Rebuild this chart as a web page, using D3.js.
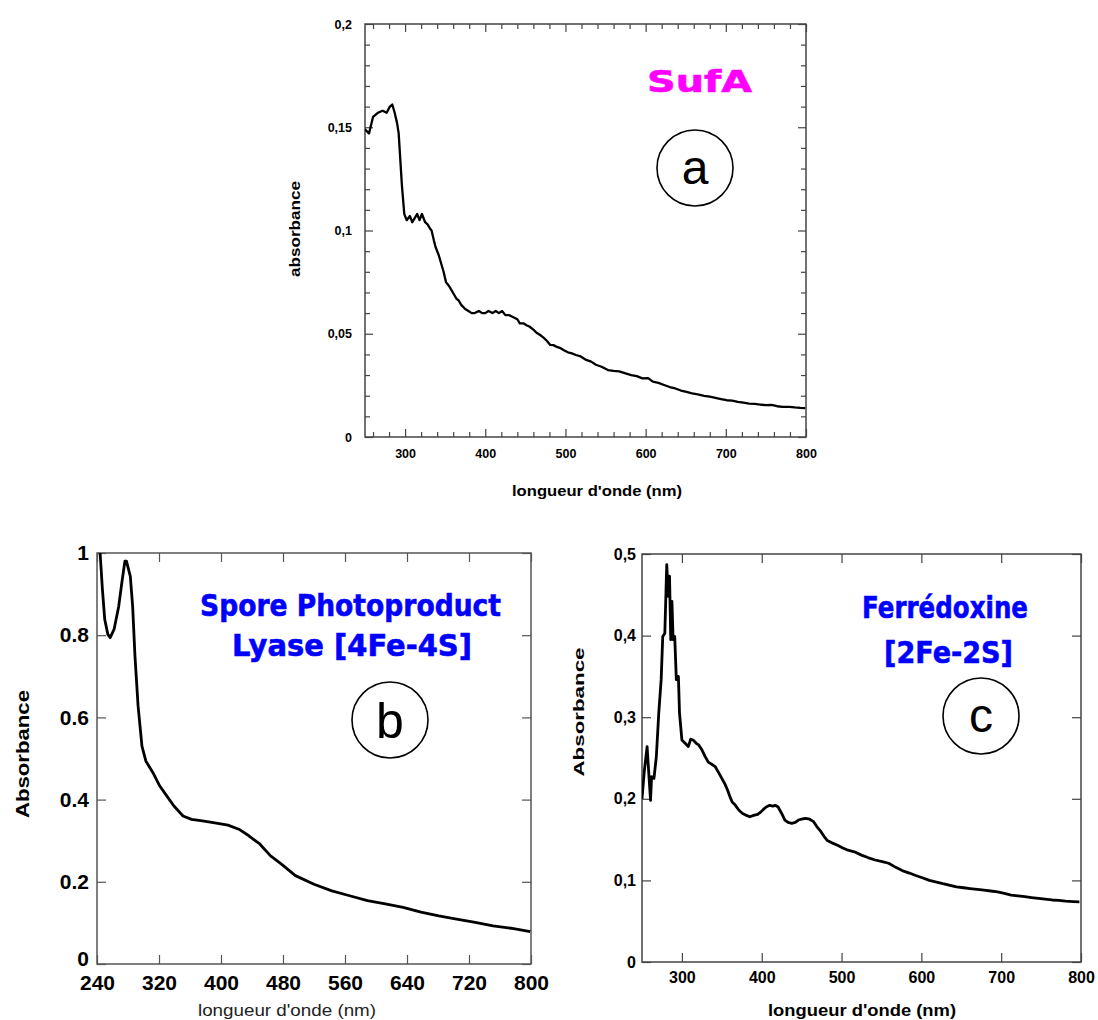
<!DOCTYPE html>
<html>
<head>
<meta charset="utf-8">
<script src="https://cdn.jsdelivr.net/npm/d3@7"></script>
<style>
  html, body { margin: 0; padding: 0; background: #fff; }
  svg { display: block; }
</style>
</head>
<body>
<svg id="chart" width="1098" height="1020"></svg>
<script>
// ---------- DATA ----------
// Panel a : SufA
const sufaWavelength = [250,255,260,266,272,277,281,284,287,290,292,296,299,302,306,309,312,315,318,321,325,328,331,333,336,338,342,345,348,351,355,358,361,364,367,370,375,379,383,387,392,396,400,404,409,413,417,421,425,430,435,440,443,448,452,455,460,464,468,473,477,481,485,490,494,498,503,508,513,519,525,532,538,545,553,560,567,575,582,589,596,603,609,616,623,630,637,644,651,658,665,673,680,687,694,701,708,715,722,729,736,743,750,757,764,771,779,786,793,799];
const sufaAbs = [0.149,0.147,0.155,0.157,0.158,0.157,0.160,0.161,0.157,0.152,0.147,0.122,0.108,0.105,0.107,0.104,0.106,0.108,0.105,0.108,0.104,0.103,0.101,0.100,0.095,0.092,0.088,0.084,0.080,0.075,0.073,0.071,0.069,0.067,0.066,0.064,0.062,0.061,0.060,0.060,0.061,0.060,0.060,0.061,0.060,0.061,0.060,0.061,0.059,0.059,0.058,0.057,0.055,0.055,0.054,0.0535,0.052,0.0505,0.0495,0.048,0.0465,0.0446,0.0445,0.0435,0.043,0.042,0.041,0.0405,0.0397,0.039,0.0375,0.0365,0.035,0.034,0.0324,0.032,0.0318,0.0308,0.0300,0.0295,0.0284,0.0285,0.0268,0.0262,0.0252,0.0242,0.0235,0.0225,0.0218,0.0211,0.0206,0.0199,0.0195,0.019,0.0184,0.0178,0.0176,0.0170,0.0166,0.0162,0.0160,0.0157,0.0154,0.0156,0.0149,0.0146,0.0146,0.0143,0.0141,0.0140,0.0135];

// Panel b : Spore Photoproduct Lyase [4Fe-4S]
const sppWavelength = [244,247,250,254,257,262,268,272,276,278,283,286,289,293,298,303,312,321,330,339,351,362,376,390,409,423,436,450,464,478,496,520,543,566,589,612,635,658,681,704,728,751,774,799];
const sppAbs = [1.0,0.911,0.838,0.802,0.794,0.814,0.870,0.927,0.980,0.980,0.943,0.870,0.749,0.628,0.530,0.494,0.466,0.433,0.409,0.385,0.360,0.352,0.348,0.344,0.338,0.328,0.312,0.292,0.263,0.243,0.215,0.194,0.178,0.166,0.154,0.146,0.138,0.126,0.117,0.109,0.101,0.093,0.087,0.079];

// Panel c : Ferrédoxine [2Fe-2S]
const ferWavelength = [250,253,256.4,258.5,260.7,262,265,268,271,274,276,278.6,280,281,283,284.5,286,287.5,289,291,293,295.6,297,300,304,308,311,314,318,321,325,329,333,338,342,346,350,354,357,360,363,367,371.5,376,380,385,391,395,399,402,405.6,410,414,417,420.5,425,429,433,437.6,442,446,450,454.7,460,465,469,474,478,482,488,495,501,508,516,525,533,542,551,559,568,576,585,593,602,610,619,627,636,644,653,661,670,678.5,687,695.5,704,712.5,721,729.7,738,746.7,755,763.7,772,780.8,790,798];
const ferAbs = [0.200,0.235,0.264,0.231,0.198,0.227,0.225,0.252,0.305,0.346,0.399,0.403,0.452,0.487,0.448,0.473,0.395,0.442,0.395,0.399,0.346,0.350,0.305,0.272,0.268,0.264,0.273,0.272,0.268,0.266,0.260,0.252,0.245,0.242,0.239,0.232,0.225,0.218,0.211,0.203,0.196,0.192,0.186,0.182,0.180,0.178,0.180,0.181,0.184,0.187,0.190,0.192,0.191,0.192,0.190,0.182,0.174,0.171,0.170,0.171,0.174,0.175,0.176,0.175,0.172,0.166,0.160,0.154,0.149,0.146,0.143,0.140,0.137,0.135,0.131,0.128,0.125,0.123,0.121,0.116,0.112,0.109,0.106,0.103,0.100,0.098,0.096,0.094,0.092,0.091,0.090,0.089,0.088,0.087,0.086,0.084,0.082,0.081,0.080,0.079,0.078,0.077,0.076,0.0755,0.0745,0.074,0.0737];

// Tick values and labels
const aXTicks = [300,400,500,600,700,800];
const aXTickLabels = ["300","400","500","600","700","800"];
const aXMinor = [260,280,320,340,360,380,420,440,460,480,520,540,560,580,620,640,660,680,720,740,760,780];
const aYTicks = [0,0.05,0.1,0.15,0.2];
const aYTickLabels = ["0","0,05","0,1","0,15","0,2"];
const aYMinor = [0.01,0.02,0.03,0.04,0.06,0.07,0.08,0.09,0.11,0.12,0.13,0.14,0.16,0.17,0.18,0.19];

const bXTicks = [240,320,400,480,560,640,720,800];
const bXTickLabels = ["240","320","400","480","560","640","720","800"];
const bYTicks = [0,0.2,0.4,0.6,0.8,1];
const bYTickLabels = ["0","0.2","0.4","0.6","0.8","1"];

const cXTicks = [300,400,500,600,700,800];
const cXTickLabels = ["300","400","500","600","700","800"];
const cYTicks = [0,0.1,0.2,0.3,0.4,0.5];
const cYTickLabels = ["0","0,1","0,2","0,3","0,4","0,5"];

const panelTitles = {
  a: ["SufA"],
  b: ["Spore Photoproduct", "Lyase [4Fe-4S]"],
  c: ["Ferrédoxine", "[2Fe-2S]"]
};
const xTitle = "longueur d'onde (nm)";

// ---------- DRAW ----------
const svg = d3.select("#chart");
const handFont = "'DejaVu Sans',Verdana,sans-serif";
const axisFont = "Arial,'Liberation Sans',Helvetica,sans-serif";

function panel(cfg) {
  const g = svg.append("g");
  const x = d3.scaleLinear().domain(cfg.xDomain).range([cfg.left, cfg.right]);
  const y = d3.scaleLinear().domain(cfg.yDomain).range([cfg.bottom, cfg.top]);

  const fmt = (arr, labels) => (d => labels[arr.indexOf(d)]);

  // axes (ticks inward)
  function addAxis(axisGen, transform, vals, labels, size, showLabels, pad) {
    const a = axisGen.tickValues(vals).tickSize(-size).tickPadding(pad || 6)
      .tickFormat(showLabels ? fmt(vals, labels) : () => "");
    const ag = g.append("g").attr("transform", transform).call(a);
    ag.select(".domain").remove();
    ag.selectAll("line").attr("stroke", cfg.axisColor).attr("stroke-width", cfg.tickWidth);
    ag.selectAll("text")
      .attr("font-family", axisFont)
      .attr("font-weight", "bold")
      .attr("font-size", cfg.tickFont)
      .attr("fill", "#000");
    return ag;
  }
  addAxis(d3.axisBottom(x), `translate(0,${cfg.bottom})`, cfg.xTicks, cfg.xLabels, cfg.majorLen, true, cfg.xPad);
  addAxis(d3.axisTop(x), `translate(0,${cfg.top})`, cfg.xTicks, cfg.xLabels, cfg.majorLen, false);
  const yAx = addAxis(d3.axisLeft(y), `translate(${cfg.left},0)`, cfg.yTicks, cfg.yLabels, cfg.majorLen, true, cfg.yPad);
  if (cfg.zeroLabelShift) {
    yAx.selectAll(".tick").filter(d => d === 0).select("text").attr("y", -cfg.zeroLabelShift);
  }
  addAxis(d3.axisRight(y), `translate(${cfg.right},0)`, cfg.yTicks, cfg.yLabels, cfg.majorLen, false);
  if (cfg.xMinor) {
    addAxis(d3.axisBottom(x), `translate(0,${cfg.bottom})`, cfg.xMinor, null, cfg.minorLen, false);
    addAxis(d3.axisTop(x), `translate(0,${cfg.top})`, cfg.xMinor, null, cfg.minorLen, false);
  }
  if (cfg.yMinor) {
    addAxis(d3.axisLeft(y), `translate(${cfg.left},0)`, cfg.yMinor, null, cfg.minorLen, false);
    addAxis(d3.axisRight(y), `translate(${cfg.right},0)`, cfg.yMinor, null, cfg.minorLen, false);
  }

  // frame
  g.append("rect")
    .attr("x", cfg.left).attr("y", cfg.top)
    .attr("width", cfg.right - cfg.left).attr("height", cfg.bottom - cfg.top)
    .attr("fill", "none").attr("stroke", cfg.axisColor).attr("stroke-width", cfg.frameWidth);

  // curve
  const pts = cfg.xs.map((d, i) => [d, cfg.ys[i]]);
  const clipId = "clip-" + cfg.id;
  svg.append("clipPath").attr("id", clipId).append("rect")
    .attr("x", cfg.left).attr("y", cfg.top - 2)
    .attr("width", cfg.right - cfg.left).attr("height", cfg.bottom - cfg.top + 2);
  g.append("path")
    .datum(pts)
    .attr("clip-path", `url(#${clipId})`)
    .attr("fill", "none").attr("stroke", "#000")
    .attr("stroke-width", cfg.lineWidth)
    .attr("stroke-linejoin", "round")
    .attr("d", d3.line().x(d => x(d[0])).y(d => y(d[1])));

  // axis titles
  g.append("text")
    .attr("x", cfg.xTitlePos[0]).attr("y", cfg.xTitlePos[1])
    .attr("text-anchor", "middle")
    .attr("font-family", axisFont)
    .attr("font-weight", cfg.xTitleWeight)
    .attr("font-size", cfg.xTitleFont)
    .attr("fill", cfg.xTitleColor || "#000")
    .attr("textLength", cfg.xTitlePos[2])
    .attr("lengthAdjust", "spacingAndGlyphs")
    .text(xTitle);
  g.append("text")
    .attr("transform", `translate(${cfg.yTitlePos[0]},${cfg.yTitlePos[1]}) rotate(-90)`)
    .attr("text-anchor", "middle")
    .attr("font-family", axisFont)
    .attr("font-weight", "bold")
    .attr("font-size", cfg.yTitleFont)
    .attr("fill", "#000")
    .attr("textLength", cfg.yTitlePos[2])
    .attr("lengthAdjust", "spacingAndGlyphs")
    .text(cfg.yTitle);

  // protein name
  cfg.titleLines.forEach((t, i) => {
    g.append("text")
      .attr("x", cfg.titlePos[i][0]).attr("y", cfg.titlePos[i][1])
      .attr("font-family", handFont)
      .attr("font-weight", "bold")
      .attr("font-size", cfg.titleFont)
      .attr("fill", cfg.titleColor)
      .attr("stroke", cfg.titleColor)
      .attr("stroke-width", 0.6)
      .attr("textLength", cfg.titlePos[i][2])
      .attr("lengthAdjust", "spacingAndGlyphs")
      .text(t);
  });

  // circled letter
  g.append("circle")
    .attr("cx", cfg.circle[0]).attr("cy", cfg.circle[1]).attr("r", cfg.circle[2])
    .attr("fill", "none").attr("stroke", "#000").attr("stroke-width", 1.6);
  g.append("text")
    .attr("x", cfg.circle[0]).attr("y", cfg.circle[1] + cfg.letterDy)
    .attr("text-anchor", "middle")
    .attr("font-family", axisFont)
    .attr("font-size", cfg.letterFont)
    .attr("fill", "#000")
    .text(cfg.id);
}

panel({
  id: "a", left: 365, right: 806, top: 24, bottom: 437,
  xDomain: [250, 800], yDomain: [0, 0.2],
  xTicks: aXTicks, xLabels: aXTickLabels, xMinor: aXMinor,
  yTicks: aYTicks, yLabels: aYTickLabels, yMinor: aYMinor,
  majorLen: 8, minorLen: 5, tickWidth: 1.2, frameWidth: 1.5, axisColor: "#444",
  tickFont: 12.5, xPad: 12, yPad: 13,
  xs: sufaWavelength, ys: sufaAbs, lineWidth: 2.3,
  xTitlePos: [597, 496, 170], xTitleFont: 15, xTitleWeight: "bold",
  yTitle: "absorbance", yTitlePos: [300, 229, 96], yTitleFont: 14,
  titleLines: panelTitles.a, titleFont: 30, titleColor: "#ff00ff",
  titlePos: [[647, 92, 105]],
  circle: [695, 168, 38], letterFont: 48, letterDy: 16
});

panel({
  id: "b", left: 97, right: 531, top: 553, bottom: 964,
  xDomain: [240, 800], yDomain: [0, 1],
  xTicks: bXTicks, xLabels: bXTickLabels,
  yTicks: bYTicks, yLabels: bYTickLabels,
  majorLen: 9, minorLen: 5, tickWidth: 1.2, frameWidth: 1.5, axisColor: "#555",
  tickFont: 21, xPad: 11, yPad: 8, zeroLabelShift: 5,
  xs: sppWavelength, ys: sppAbs, lineWidth: 2.8,
  xTitlePos: [287, 1016, 178], xTitleFont: 17, xTitleWeight: "normal", xTitleColor: "#222",
  yTitle: "Absorbance", yTitlePos: [29, 754, 128], yTitleFont: 19,
  titleLines: panelTitles.b, titleFont: 30, titleColor: "#0000ff",
  titlePos: [[200, 616, 301], [232, 656, 240]],
  circle: [390, 720, 38], letterFont: 50, letterDy: 18
});

panel({
  id: "c", left: 642, right: 1081, top: 554, bottom: 962,
  xDomain: [250, 800], yDomain: [0, 0.5],
  xTicks: cXTicks, xLabels: cXTickLabels,
  yTicks: cYTicks, yLabels: cYTickLabels,
  majorLen: 9, minorLen: 5, tickWidth: 1.2, frameWidth: 1.5, axisColor: "#444",
  tickFont: 16, xPad: 10, yPad: 6,
  xs: ferWavelength, ys: ferAbs, lineWidth: 2.8,
  xTitlePos: [862, 1016, 188], xTitleFont: 16, xTitleWeight: "bold",
  yTitle: "Absorbance", yTitlePos: [584, 712, 129], yTitleFont: 15,
  titleLines: panelTitles.c, titleFont: 30, titleColor: "#0000ff",
  titlePos: [[862, 618, 166], [884, 663, 129]],
  circle: [981, 716, 38], letterFont: 48, letterDy: 16
});
</script>
</body>
</html>
